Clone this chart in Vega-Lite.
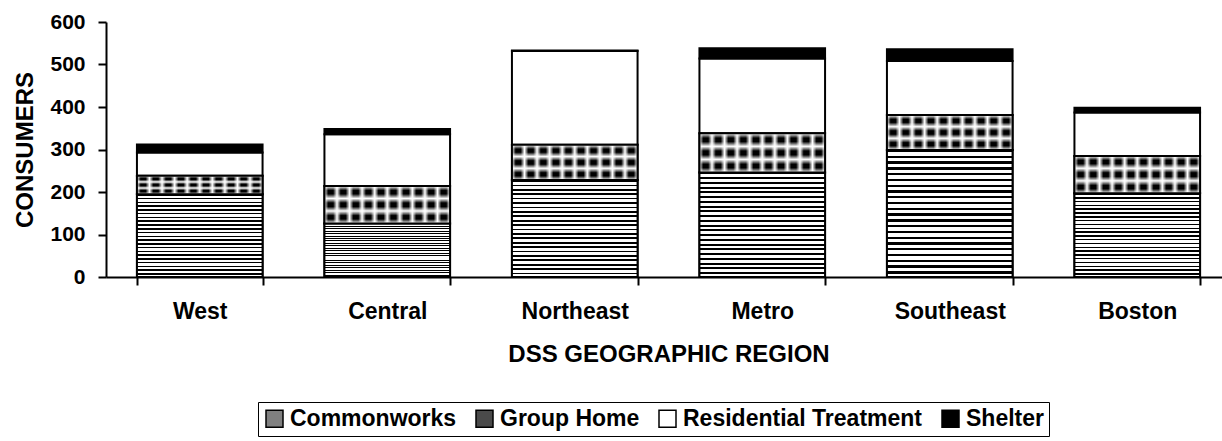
{
  "$schema": "https://vega.github.io/schema/vega-lite/v6.json",
  "width": 1116,
  "height": 255,
  "autosize": "none",
  "padding": {"left": 106, "top": 22, "right": 0, "bottom": 164},
  "background": "white",
  "config": {
    "view": {"stroke": null},
    "font": "Liberation Sans",
    "axis": {"labelFont": "Liberation Sans", "titleFont": "Liberation Sans", "labelColor": "black", "titleColor": "black"},
    "legend": {"labelFont": "Liberation Sans"}
  },
  "data": {
    "values": [
      {"region": "West", "type": "Commonworks", "consumers": 195},
      {"region": "West", "type": "Group Home", "consumers": 43},
      {"region": "West", "type": "Residential Treatment", "consumers": 55},
      {"region": "West", "type": "Shelter", "consumers": 19},
      {"region": "Central", "type": "Commonworks", "consumers": 126},
      {"region": "Central", "type": "Group Home", "consumers": 88},
      {"region": "Central", "type": "Residential Treatment", "consumers": 122},
      {"region": "Central", "type": "Shelter", "consumers": 12},
      {"region": "Northeast", "type": "Commonworks", "consumers": 228},
      {"region": "Northeast", "type": "Group Home", "consumers": 83},
      {"region": "Northeast", "type": "Residential Treatment", "consumers": 221},
      {"region": "Northeast", "type": "Shelter", "consumers": 1},
      {"region": "Metro", "type": "Commonworks", "consumers": 246},
      {"region": "Metro", "type": "Group Home", "consumers": 92},
      {"region": "Metro", "type": "Residential Treatment", "consumers": 176},
      {"region": "Metro", "type": "Shelter", "consumers": 24},
      {"region": "Southeast", "type": "Commonworks", "consumers": 299},
      {"region": "Southeast", "type": "Group Home", "consumers": 82},
      {"region": "Southeast", "type": "Residential Treatment", "consumers": 127},
      {"region": "Southeast", "type": "Shelter", "consumers": 28},
      {"region": "Boston", "type": "Commonworks", "consumers": 197},
      {"region": "Boston", "type": "Group Home", "consumers": 88},
      {"region": "Boston", "type": "Residential Treatment", "consumers": 102},
      {"region": "Boston", "type": "Shelter", "consumers": 11}
    ]
  },
  "transform": [
    {"stack": "consumers", "groupby": ["region"], "sort": [{"field": "type", "order": "ascending"}], "as": ["y0", "y1"]}
  ],
  "encoding": {
    "x": {
      "field": "region",
      "type": "nominal",
      "sort": ["West", "Central", "Northeast", "Metro", "Southeast", "Boston"],
      "scale": {"paddingInner": 0.33, "paddingOuter": 0.165, "range": [0, 1125]},
      "axis": {
        "title": "DSS GEOGRAPHIC REGION",
        "titleFontSize": 24,
        "titleFontWeight": "bold",
        "titlePadding": 19,
        "labelAngle": 0,
        "labelFontSize": 23,
        "labelFontWeight": "bold",
        "labelPadding": 15,
        "tickBand": "extent",
        "tickSize": 8,
        "tickWidth": 2,
        "tickColor": "black",
        "domainColor": "black",
        "domainWidth": 2
      }
    },
    "y": {
      "field": "y0",
      "type": "quantitative",
      "scale": {"domain": [0, 600]},
      "axis": {
        "title": "CONSUMERS",
        "titleFontSize": 24,
        "titleFontWeight": "bold",
        "titlePadding": 12,
        "values": [0, 100, 200, 300, 400, 500, 600],
        "labelFontSize": 21,
        "labelFontWeight": "bold",
        "labelPadding": 13,
        "grid": false,
        "tickSize": 8,
        "tickWidth": 2,
        "tickColor": "black",
        "domainColor": "black",
        "domainWidth": 2
      }
    },
    "y2": {"field": "y1"}
  },
  "layer": [
    {
      "mark": {"type": "bar", "stroke": "black", "strokeWidth": 2},
      "encoding": {
        "color": {
          "field": "type",
          "type": "nominal",
          "scale": {
            "domain": ["Commonworks", "Group Home", "Residential Treatment", "Shelter"],
            "range": ["#808080", "#4a4a4a", "white", "black"]
          },
          "legend": {
            "orient": "none",
            "legendX": 152,
            "legendY": 380,
            "direction": "horizontal",
            "title": null,
            "strokeColor": "black",
            "fillColor": "white",
            "padding": 5,
            "labelFontSize": 23,
            "labelFontWeight": "bold",
            "labelColor": "black",
            "labelLimit": 0,
            "labelOffset": 4,
            "columnPadding": 16,
            "symbolType": "square",
            "symbolSize": 289,
            "symbolStrokeColor": "black",
            "symbolStrokeWidth": 1.5
          }
        }
      }
    },
    {
      "transform": [{"filter": "datum.type === 'Commonworks'"}],
      "mark": {
        "type": "bar",
        "stroke": "black",
        "strokeWidth": 2,
        "fill": {"gradient": "linear", "x1": 0, "y1": 0, "x2": 0, "y2": 1, "stops": [
          {"offset": 0, "color": "black"}, {"offset": 0.0182, "color": "black"}, {"offset": 0.0182, "color": "white"}, {"offset": 0.0455, "color": "white"},
          {"offset": 0.0455, "color": "black"}, {"offset": 0.0636, "color": "black"}, {"offset": 0.0636, "color": "white"}, {"offset": 0.0909, "color": "white"},
          {"offset": 0.0909, "color": "black"}, {"offset": 0.1091, "color": "black"}, {"offset": 0.1091, "color": "white"}, {"offset": 0.1364, "color": "white"},
          {"offset": 0.1364, "color": "black"}, {"offset": 0.1545, "color": "black"}, {"offset": 0.1545, "color": "white"}, {"offset": 0.1818, "color": "white"},
          {"offset": 0.1818, "color": "black"}, {"offset": 0.2, "color": "black"}, {"offset": 0.2, "color": "white"}, {"offset": 0.2273, "color": "white"},
          {"offset": 0.2273, "color": "black"}, {"offset": 0.2455, "color": "black"}, {"offset": 0.2455, "color": "white"}, {"offset": 0.2727, "color": "white"},
          {"offset": 0.2727, "color": "black"}, {"offset": 0.2909, "color": "black"}, {"offset": 0.2909, "color": "white"}, {"offset": 0.3182, "color": "white"},
          {"offset": 0.3182, "color": "black"}, {"offset": 0.3364, "color": "black"}, {"offset": 0.3364, "color": "white"}, {"offset": 0.3636, "color": "white"},
          {"offset": 0.3636, "color": "black"}, {"offset": 0.3818, "color": "black"}, {"offset": 0.3818, "color": "white"}, {"offset": 0.4091, "color": "white"},
          {"offset": 0.4091, "color": "black"}, {"offset": 0.4273, "color": "black"}, {"offset": 0.4273, "color": "white"}, {"offset": 0.4545, "color": "white"},
          {"offset": 0.4545, "color": "black"}, {"offset": 0.4727, "color": "black"}, {"offset": 0.4727, "color": "white"}, {"offset": 0.5, "color": "white"},
          {"offset": 0.5, "color": "black"}, {"offset": 0.5182, "color": "black"}, {"offset": 0.5182, "color": "white"}, {"offset": 0.5455, "color": "white"},
          {"offset": 0.5455, "color": "black"}, {"offset": 0.5636, "color": "black"}, {"offset": 0.5636, "color": "white"}, {"offset": 0.5909, "color": "white"},
          {"offset": 0.5909, "color": "black"}, {"offset": 0.6091, "color": "black"}, {"offset": 0.6091, "color": "white"}, {"offset": 0.6364, "color": "white"},
          {"offset": 0.6364, "color": "black"}, {"offset": 0.6545, "color": "black"}, {"offset": 0.6545, "color": "white"}, {"offset": 0.6818, "color": "white"},
          {"offset": 0.6818, "color": "black"}, {"offset": 0.7, "color": "black"}, {"offset": 0.7, "color": "white"}, {"offset": 0.7273, "color": "white"},
          {"offset": 0.7273, "color": "black"}, {"offset": 0.7455, "color": "black"}, {"offset": 0.7455, "color": "white"}, {"offset": 0.7727, "color": "white"},
          {"offset": 0.7727, "color": "black"}, {"offset": 0.7909, "color": "black"}, {"offset": 0.7909, "color": "white"}, {"offset": 0.8182, "color": "white"},
          {"offset": 0.8182, "color": "black"}, {"offset": 0.8364, "color": "black"}, {"offset": 0.8364, "color": "white"}, {"offset": 0.8636, "color": "white"},
          {"offset": 0.8636, "color": "black"}, {"offset": 0.8818, "color": "black"}, {"offset": 0.8818, "color": "white"}, {"offset": 0.9091, "color": "white"},
          {"offset": 0.9091, "color": "black"}, {"offset": 0.9273, "color": "black"}, {"offset": 0.9273, "color": "white"}, {"offset": 0.9545, "color": "white"},
          {"offset": 0.9545, "color": "black"}, {"offset": 0.9727, "color": "black"}, {"offset": 0.9727, "color": "white"}, {"offset": 1, "color": "white"}
        ]}
      }
    },
    {
      "transform": [{"filter": "datum.type === 'Group Home'"}],
      "mark": {
        "type": "bar",
        "strokeWidth": 0,
        "fill": {"gradient": "linear", "x1": 0, "y1": 0, "x2": 1, "y2": 0, "stops": [
          {"offset": 0, "color": "white"}, {"offset": 0.03, "color": "black"}, {"offset": 0.07, "color": "black"},
          {"offset": 0.1, "color": "white"}, {"offset": 0.13, "color": "black"}, {"offset": 0.17, "color": "black"},
          {"offset": 0.2, "color": "white"}, {"offset": 0.23, "color": "black"}, {"offset": 0.27, "color": "black"},
          {"offset": 0.3, "color": "white"}, {"offset": 0.33, "color": "black"}, {"offset": 0.37, "color": "black"},
          {"offset": 0.4, "color": "white"}, {"offset": 0.43, "color": "black"}, {"offset": 0.47, "color": "black"},
          {"offset": 0.5, "color": "white"}, {"offset": 0.53, "color": "black"}, {"offset": 0.57, "color": "black"},
          {"offset": 0.6, "color": "white"}, {"offset": 0.63, "color": "black"}, {"offset": 0.67, "color": "black"},
          {"offset": 0.7, "color": "white"}, {"offset": 0.73, "color": "black"}, {"offset": 0.77, "color": "black"},
          {"offset": 0.8, "color": "white"}, {"offset": 0.83, "color": "black"}, {"offset": 0.87, "color": "black"},
          {"offset": 0.9, "color": "white"}, {"offset": 0.93, "color": "black"}, {"offset": 0.97, "color": "black"},
          {"offset": 1, "color": "white"}
        ]}
      }
    },
    {
      "transform": [{"filter": "datum.type === 'Group Home'"}],
      "mark": {
        "type": "bar",
        "stroke": "black",
        "strokeWidth": 2,
        "fill": {"gradient": "linear", "x1": 0, "y1": 0, "x2": 0, "y2": 1, "stops": [
          {"offset": 0, "color": "rgba(255,255,255,1)"}, {"offset": 0.12, "color": "rgba(255,255,255,0)"}, {"offset": 0.21, "color": "rgba(255,255,255,0)"},
          {"offset": 0.3333, "color": "rgba(255,255,255,1)"}, {"offset": 0.45, "color": "rgba(255,255,255,0)"}, {"offset": 0.55, "color": "rgba(255,255,255,0)"},
          {"offset": 0.6667, "color": "rgba(255,255,255,1)"}, {"offset": 0.79, "color": "rgba(255,255,255,0)"}, {"offset": 0.88, "color": "rgba(255,255,255,0)"},
          {"offset": 1, "color": "rgba(255,255,255,1)"}
        ]}
      }
    }
  ]
}
